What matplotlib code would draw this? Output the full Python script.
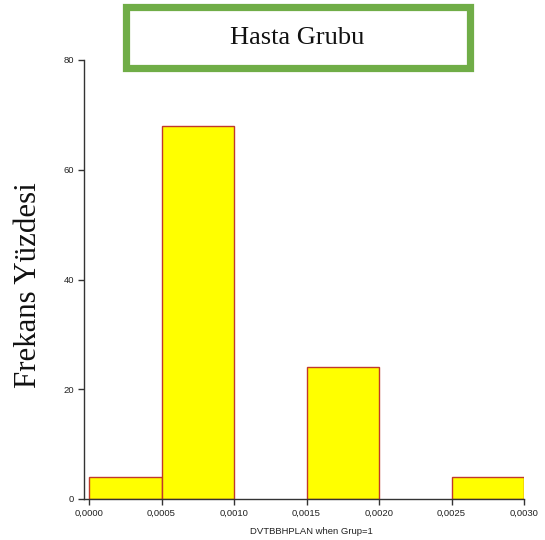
import matplotlib
matplotlib.use("Agg")
import matplotlib.pyplot as plt
from matplotlib.patches import Rectangle
from matplotlib.ticker import FuncFormatter

# histogram bins (left edges) and percentage heights
bin_left = [0.0000, 0.0005, 0.0010, 0.0015, 0.0020, 0.0025]
percent = [4, 68, 0, 24, 0, 4]
bin_width = 0.0005
x_ticks = [0.0000, 0.0005, 0.0010, 0.0015, 0.0020, 0.0025, 0.0030]
y_ticks = [0, 20, 40, 60, 80]

W, H = 545, 540
fig = plt.figure(figsize=(W / 100, H / 100), dpi=100)
ax = fig.add_axes([84 / W, 1 - 499 / H, (524 - 84) / W, (499 - 60) / H])

for left, h in zip(bin_left, percent):
    if h > 0:
        ax.bar(left, h, width=bin_width, align="edge", color="#ffff00",
               edgecolor="#c0392b", linewidth=1.0)

ax.set_xlim(-0.0000345, 0.0030)
ax.set_ylim(0, 80)
ax.set_xticks(x_ticks)
ax.set_yticks(y_ticks)
ax.xaxis.set_major_formatter(FuncFormatter(lambda v, p: f"{v:.4f}".replace(".", ",")))
for s in ["top", "right"]:
    ax.spines[s].set_visible(False)
for s in ["left", "bottom"]:
    ax.spines[s].set_color("#333333")
    ax.spines[s].set_linewidth(1.0)
ax.tick_params(axis="both", length=4, width=1.0, color="#333333",
               labelsize=6.8, labelcolor="#222222", pad=3)
for lab in ax.get_xticklabels() + ax.get_yticklabels():
    lab.set_family("Liberation Sans")

fig.text(311 / W, 1 - 531 / H, "DVTBBHPLAN when Grup=1", ha="center", va="center",
         fontsize=6.8, family="Liberation Sans", color="#222222")
fig.text(29 / W, 1 - 285 / H, "Frekans Yüzdesi", ha="center", va="center",
         rotation=90, fontsize=22.2, family="Liberation Serif", color="#111111")

# title box
fig.patches.append(Rectangle((125.5 / W, 1 - 67.5 / H), (470 - 125.5) / W, (67.5 - 7.5) / H,
                             transform=fig.transFigure, facecolor="white",
                             edgecolor="#70ad47", linewidth=5.2))
fig.text(297 / W, 1 - 38 / H, "Hasta Grubu", ha="center", va="center",
         fontsize=19, family="Liberation Serif", color="#111111")

fig.savefig("out.png", dpi=100)
